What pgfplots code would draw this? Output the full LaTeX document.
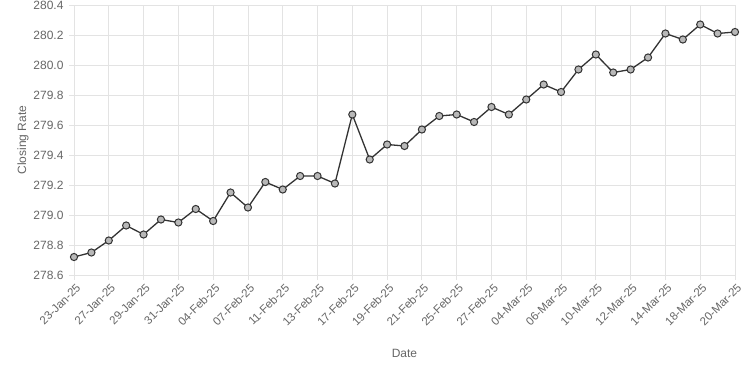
\documentclass[border=0pt]{standalone}
\usepackage{fontspec}
\setmainfont{Liberation Sans}
\usepackage{pgfplots}
\pgfplotsset{compat=1.18}
\definecolor{txt}{HTML}{666666}
\definecolor{gridc}{HTML}{E3E3E3}
\definecolor{linec}{HTML}{333333}
\definecolor{markf}{HTML}{B8B8B8}
\begin{document}
\begin{tikzpicture}[x=1pt,y=1pt]
\useasboundingbox (-74,-100) rectangle (676,275);
\begin{axis}[
  at={(0,0)}, anchor=south west,
  scale only axis, width=661pt, height=270pt,
  xmin=0, xmax=38, ymin=278.6, ymax=280.4,
  xtick={0,2,...,38},
  xticklabels={23-Jan-25,27-Jan-25,29-Jan-25,31-Jan-25,04-Feb-25,07-Feb-25,11-Feb-25,13-Feb-25,17-Feb-25,19-Feb-25,21-Feb-25,25-Feb-25,27-Feb-25,04-Mar-25,06-Mar-25,10-Mar-25,12-Mar-25,14-Mar-25,18-Mar-25,20-Mar-25},
  ytick={278.6,278.8,...,280.5},
  /pgf/number format/fixed,
  /pgf/number format/fixed zerofill,
  /pgf/number format/precision=1,
  /pgf/number format/assume math mode=true,
  x tick label style={rotate=45, anchor=north east, font=\fontsize{11.5}{13}\selectfont, color=txt, inner sep=1pt, yshift=-2pt},
  y tick label style={font=\fontsize{12}{14}\selectfont, color=txt, xshift=-2pt},
  xlabel={Date}, ylabel={Closing Rate},
  xlabel style={font=\fontsize{12}{14}\selectfont, color=txt, at={(axis description cs:0.5,0)}, anchor=center, yshift=-78pt},
  ylabel style={font=\fontsize{12}{14}\selectfont, color=txt, xshift=0pt, yshift=-2pt},
  axis line style={draw=none},
  grid=major, grid style={gridc, line width=0.8pt},
  major tick length=5pt, tick align=outside,
  tick style={gridc, line width=0.8pt},
  xtick pos=bottom, ytick pos=left,
  clip=false,
]
\addplot[linec, line width=1.3pt, mark=*, mark size=3.6pt, mark options={fill=markf, draw=linec, line width=1pt}] coordinates {
(0,278.72) (1,278.75) (2,278.83) (3,278.93) (4,278.87) (5,278.97) (6,278.95) (7,279.04) (8,278.96) (9,279.15)
(10,279.05) (11,279.22) (12,279.17) (13,279.26) (14,279.26) (15,279.21) (16,279.67) (17,279.37) (18,279.47) (19,279.46)
(20,279.57) (21,279.66) (22,279.67) (23,279.62) (24,279.72) (25,279.67) (26,279.77) (27,279.87) (28,279.82) (29,279.97)
(30,280.07) (31,279.95) (32,279.97) (33,280.05) (34,280.21) (35,280.17) (36,280.27) (37,280.21) (38,280.22)
};
\end{axis}
\end{tikzpicture}
\end{document}
